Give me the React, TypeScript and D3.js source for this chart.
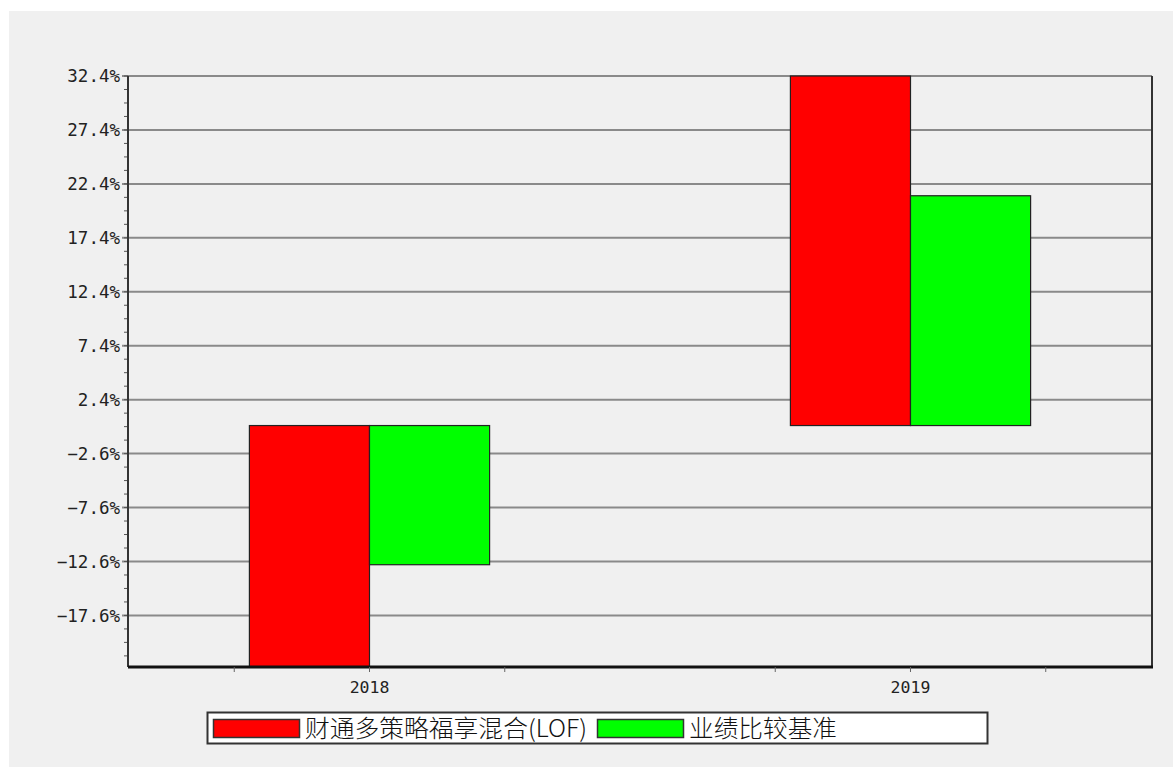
import React from "react";
import * as d3 from "d3";

const categories = ["2018", "2019"];
const seriesNames = ["财通多策略福享混合(LOF)", "业绩比较基准"];
const fundValues = [-22.38, 32.4];
const benchValues = [-12.9, 21.3];
const seriesColors = ["#ff0000", "#00ff00"];

const W = 1173;
const H = 767;
const left = 128;
const right = 1152;
const top = 76;
const bottom = 667;

export default function App() {
  const yMax = d3.max([...fundValues, ...benchValues]) as number;
  const yMin = d3.min([...fundValues, ...benchValues]) as number;
  const y = d3.scaleLinear().domain([yMin, yMax]).range([bottom, top]);
  const x = d3.scalePoint<string>().domain(categories).range([left, right]).padding(0.4464);
  const step = x.step();
  const barW = step * 0.222;

  const majorTicks = d3.range(yMax, yMin - 1e-9, -5);
  const minorTicks = d3.range(yMax, yMin - 1e-9, -1.25);
  const xMinor: number[] = [];
  categories.forEach((c) => {
    const cx = x(c) as number;
    xMinor.push(cx - step * 0.25, cx, cx + step * 0.25);
  });

  const series = [fundValues, benchValues];
  const monoFont = "'DejaVu Sans Mono', 'Liberation Mono', monospace";
  const cjkFont = "'Noto Sans CJK SC', sans-serif";

  return (
    <svg width={W} height={H} style={{ position: "absolute", left: 0, top: 0 }}>
      <rect x={0} y={0} width={W} height={H} fill="#ffffff" />
      <rect x={9} y={11} width={W - 9} height={H - 11} fill="#f0f0f0" />

      {/* gridlines */}
      {majorTicks.map((t, i) => (
        <line key={"g" + i} x1={left - 6} x2={right} y1={y(t)} y2={y(t)} stroke="#8a8a8a" strokeWidth={2} />
      ))}
      {/* minor ticks */}
      {minorTicks.map((t, i) => (
        <line key={"m" + i} x1={left - 4} x2={left} y1={y(t)} y2={y(t)} stroke="#555" strokeWidth={1} />
      ))}
      {/* y labels */}
      {majorTicks.map((t, i) => (
        <text
          key={"l" + i}
          x={120}
          y={y(t)}
          dy="0.36em"
          textAnchor="end"
          fontFamily={monoFont}
          fontSize={17.5}
          fill="#222"
        >
          {d3.format(".1f")(t) + "%"}
        </text>
      ))}

      {/* bars */}
      {categories.map((c, ci) =>
        series.map((vals, si) => {
          const v = vals[ci];
          const x0 = (x(c) as number) - barW + si * barW;
          const y0 = y(Math.max(0, v));
          const y1 = y(Math.min(0, v));
          return (
            <rect
              key={c + si}
              x={x0}
              y={y0}
              width={barW}
              height={y1 - y0}
              fill={seriesColors[si]}
              stroke="#222"
              strokeWidth={1.2}
            />
          );
        })
      )}

      {/* axes */}
      <line x1={left} x2={left} y1={top} y2={bottom} stroke="#333" strokeWidth={2} />
      <line x1={right} x2={right} y1={top} y2={bottom} stroke="#333" strokeWidth={2} />
      <line x1={left} x2={right + 1} y1={bottom} y2={bottom} stroke="#111" strokeWidth={3} />
      {xMinor.map((px, i) => (
        <line key={"xt" + i} x1={px} x2={px} y1={bottom} y2={bottom + 5} stroke="#666" strokeWidth={1} />
      ))}
      {categories.map((c) => (
        <text
          key={"xl" + c}
          x={x(c) as number}
          y={693}
          textAnchor="middle"
          fontFamily={monoFont}
          fontSize={16.5}
          fill="#222"
        >
          {c}
        </text>
      ))}

      {/* legend */}
      <rect x={207.5} y={712.5} width={780} height={31} fill="#ffffff" stroke="#333" strokeWidth={2} />
      <rect x={213.5} y={719.5} width={86} height={18} fill={seriesColors[0]} stroke="#333" strokeWidth={1.5} />
      <text x={305} y={737} fontFamily={cjkFont} fontSize={24} fontWeight={300} fill="#111" textLength={282} lengthAdjust="spacingAndGlyphs">
        {seriesNames[0]}
      </text>
      <rect x={597.5} y={719.5} width={86} height={18} fill={seriesColors[1]} stroke="#333" strokeWidth={1.5} />
      <text x={689} y={737} fontFamily={cjkFont} fontSize={24} fontWeight={300} fill="#111" textLength={148} lengthAdjust="spacingAndGlyphs">
        {seriesNames[1]}
      </text>
    </svg>
  );
}
